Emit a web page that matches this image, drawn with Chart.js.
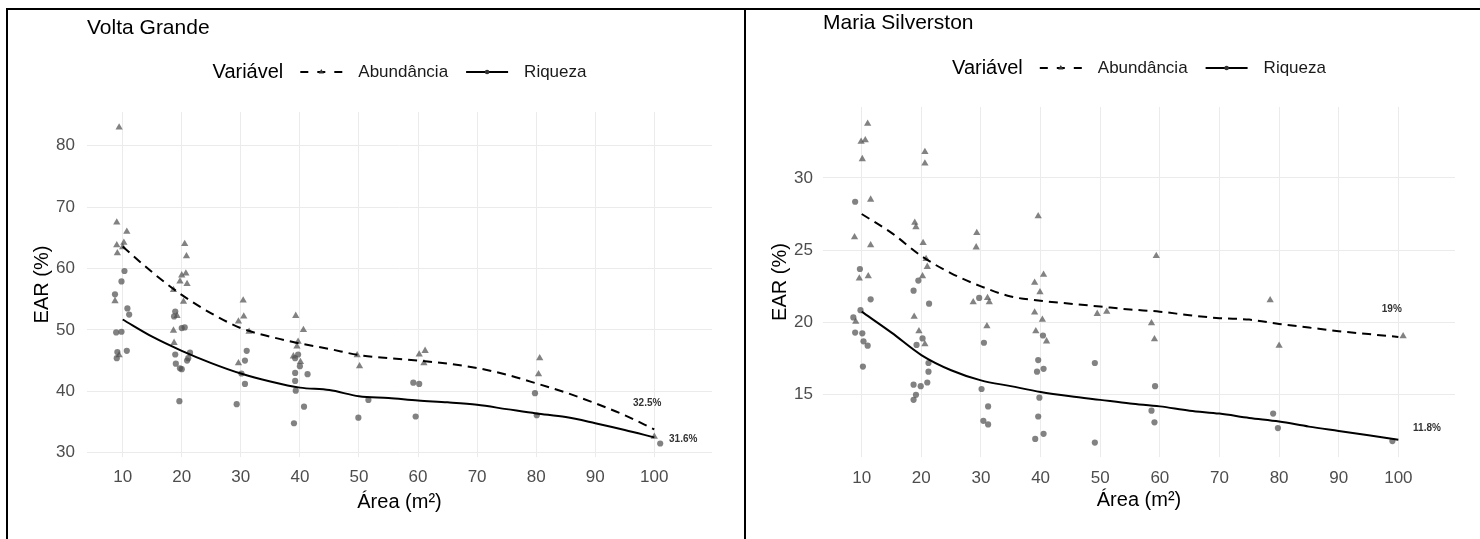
<!DOCTYPE html>
<html lang="pt">
<head>
<meta charset="utf-8">
<title>EAR por área amostral</title>
<script src="https://cdn.jsdelivr.net/npm/chart.js@4.4.1/dist/chart.umd.min.js"></script>
<style>
  html, body { margin: 0; padding: 0; background: #fff; }
  #page { position: relative; width: 1480px; height: 539px; overflow: hidden; }
  canvas { position: absolute; top: 0; }
  #voltaChart { left: 0; }
  #silverChart { left: 740px; }
  .rule { position: absolute; background: #000; }
</style>
</head>
<body>
<div id="page">
  <canvas id="voltaChart" width="740" height="539"></canvas>
  <canvas id="silverChart" width="740" height="539"></canvas>
  <div class="rule" style="left:7px;top:8px;width:1473px;height:2px"></div>
  <div class="rule" style="left:6px;top:8px;width:2px;height:531px"></div>
  <div class="rule" style="left:744px;top:8px;width:2px;height:531px"></div>
</div>
<script>
const FONT = '"Liberation Sans", Arial, Helvetica, sans-serif';

const xTicks = [10, 20, 30, 40, 50, 60, 70, 80, 90, 100];
const fitX = [10, 15, 20, 25, 30, 35, 40, 45, 50, 55, 60, 65, 70, 75, 80, 85, 90, 95, 100];
const legendTitle = 'Variável';
const legendLabels = ['Abundância', 'Riqueza'];

// Volta Grande
const voltaYTicks = [30, 40, 50, 60, 70, 80];
const voltaAbundX = [9.4, 9.0, 10.7, 9.0, 10.2, 9.1, 10.0, 8.7, 9.4,
  20.5, 20.8, 20.7, 20.0, 19.7, 20.9, 18.6, 20.3, 19.2, 18.6, 18.7,
  30.4, 30.5, 29.6, 31.4, 29.6,
  39.3, 40.6, 39.7, 39.5, 38.9, 40.1,
  49.7, 50.1, 60.2, 61.2, 61.0, 80.6, 80.4, 100.0];
const voltaAbundY = [83.0, 67.5, 66.0, 63.8, 64.2, 62.5, 63.5, 54.7, 45.9,
  64.0, 62.0, 59.2, 58.9, 57.9, 57.5, 56.5, 54.6, 52.3, 49.9, 47.9,
  54.8, 52.2, 51.4, 49.7, 44.6,
  52.3, 50.0, 48.1, 47.3, 45.7, 44.8,
  45.9, 44.1, 46.0, 46.6, 44.6, 45.4, 42.8, 32.6];
const voltaRiqX = [10.3, 9.8, 8.7, 10.8, 11.1, 8.9, 9.8, 9.1, 10.7, 9.0,
  18.9, 18.7, 20.0, 20.5, 18.9, 21.1, 21.4, 20.9, 19.0, 19.7, 20.0, 19.6,
  31.0, 30.7, 30.1, 30.7, 29.3,
  39.7, 39.2, 40.0, 39.2, 41.3, 39.2, 39.3, 40.7, 39.0,
  51.6, 49.9, 59.2, 60.2, 59.6, 79.8, 80.1, 101.0];
const voltaRiqY = [59.6, 57.9, 55.8, 53.5, 52.5, 49.6, 49.7, 46.4, 46.6, 45.4,
  53.0, 52.2, 50.3, 50.4, 46.0, 45.4, 46.3, 45.0, 44.5, 43.75, 43.6, 38.4,
  46.6, 45.0, 42.9, 41.2, 37.9,
  46.0, 45.4, 44.1, 43.0, 42.8, 41.7, 40.1, 37.5, 34.8,
  38.6, 35.7, 41.4, 41.2, 35.9, 39.7, 36.1, 31.5];
const voltaAbundFit = [63.6, 59.4, 55.7, 52.7, 50.3, 48.9, 47.8, 46.9, 45.9, 45.4,
  45.0, 44.5, 43.8, 42.7, 41.3, 39.8, 38.05, 36.1, 33.8];
const voltaRiqFit = [51.7, 48.9, 46.6, 44.6, 42.9, 41.6, 40.6, 40.2, 39.2, 38.9,
  38.5, 38.2, 37.8, 37.1, 36.4, 35.8, 34.8, 33.7, 32.5];
const voltaNoteText = ['32.5%', '31.6%'];
const voltaNoteX = [98.8, 104.9];
const voltaNoteY = [38.1, 32.2];

// Maria Silverston
const silverYTicks = [15, 20, 25, 30];
const silverAbundX = [11.0, 9.9, 10.6, 10.1, 11.5, 8.8, 11.5, 9.6, 11.1, 9.0,
  20.6, 20.6, 18.9, 19.1, 20.3, 20.8, 21.0, 20.2, 18.8, 19.6, 20.6,
  29.3, 29.2, 28.7, 31.1, 31.4, 31.0,
  39.6, 40.5, 39.0, 39.9, 40.3, 39.0, 39.2, 41.0,
  49.5, 51.1, 59.4, 58.6, 59.1, 78.5, 80.0, 100.8];
const silverAbundY = [33.75, 32.5, 32.6, 31.3, 28.5, 25.9, 25.35, 23.05, 23.2, 20.05,
  31.8, 31.0, 26.9, 26.6, 25.5, 24.4, 23.85, 23.2, 20.4, 19.4, 18.5,
  26.2, 25.2, 21.4, 21.7, 21.4, 19.75,
  27.35, 23.3, 22.75, 22.1, 20.2, 20.7, 19.4, 18.7,
  20.6, 20.75, 24.6, 19.95, 18.85, 21.55, 18.4, 19.05];
const silverRiqX = [8.9, 9.7, 11.5, 9.8, 8.6, 8.9, 10.1, 10.3, 11.0, 10.2,
  18.7, 19.5, 21.3, 20.2, 19.2, 21.2, 21.2, 18.7, 19.9, 21.0, 19.1, 18.7,
  29.7, 30.5, 30.1, 31.2, 30.4, 31.2,
  40.4, 39.6, 40.5, 39.4, 39.8, 39.6, 40.5, 39.1,
  49.1, 49.1, 59.2, 58.6, 59.1, 79.0, 79.8, 99.0];
const silverRiqY = [28.35, 23.7, 21.6, 20.85, 20.35, 19.3, 19.25, 18.7, 18.4, 16.95,
  22.2, 22.9, 21.3, 18.9, 18.45, 17.2, 16.6, 15.7, 15.6, 15.85, 15.0, 14.65,
  21.7, 18.6, 15.4, 14.2, 13.2, 12.95,
  19.1, 17.4, 16.8, 16.6, 14.8, 13.5, 12.3, 11.95,
  17.2, 11.7, 15.6, 13.9, 13.1, 13.7, 12.7, 11.8];
const silverAbundFit = [27.5, 26.2, 24.6, 23.4, 22.5, 21.8, 21.5, 21.3, 21.1, 20.9,
  20.75, 20.5, 20.3, 20.2, 19.9, 19.65, 19.4, 19.2, 19.0];
const silverRiqFit = [20.75, 19.3, 17.75, 16.7, 16.0, 15.6, 15.2, 14.9, 14.65, 14.4,
  14.2, 13.9, 13.7, 13.4, 13.15, 12.8, 12.5, 12.2, 11.9];
const silverNoteText = ['19%', '11.8%'];
const silverNoteX = [98.9, 104.8];
const silverNoteY = [20.9, 12.7];

const POINT_COLOR = 'rgba(77, 77, 77, 0.7)';
const GRID_COLOR = '#ebebeb';
const TICK_COLOR = '#4d4d4d';

Chart.defaults.font.family = FONT;

function toPoints(xs, ys) {
    return xs.map((x, i) => ({ x: x, y: ys[i] }));
}

function drawKey(ctx, x, y, w, dashed) {
    ctx.save();
    ctx.strokeStyle = '#000';
    ctx.lineWidth = 2;
    ctx.setLineDash(dashed ? [8, 9] : []);
    ctx.beginPath();
    ctx.moveTo(x, y);
    ctx.lineTo(x + w, y);
    ctx.stroke();
    ctx.setLineDash([]);
    ctx.fillStyle = '#333';
    const cx = x + w / 2;
    ctx.beginPath();
    if (dashed) {
        const r = 3;
        ctx.moveTo(cx, y - r);
        ctx.lineTo(cx + r * 0.866, y + r * 0.5);
        ctx.lineTo(cx - r * 0.866, y + r * 0.5);
        ctx.closePath();
    } else {
        ctx.arc(cx, y, 2.3, 0, Math.PI * 2);
    }
    ctx.fill();
    ctx.restore();
}

// panel title, ggplot-style inline legend and the end-of-curve labels
const panelDecor = {
    id: 'panelDecor',
    afterDraw(chart, args, opts) {
        const { ctx, chartArea: area, scales } = chart;
        ctx.save();
        ctx.textBaseline = 'middle';
        ctx.textAlign = 'left';
        ctx.fillStyle = '#000';

        ctx.font = '21px ' + FONT;
        ctx.fillText(opts.title, area.left, opts.titleY);

        const titleFont = '20px ' + FONT;
        const itemFont = '17px ' + FONT;
        const keyW = 42;
        ctx.font = titleFont;
        const wT = ctx.measureText(legendTitle).width;
        ctx.font = itemFont;
        const wA = ctx.measureText(legendLabels[0]).width;
        const wR = ctx.measureText(legendLabels[1]).width;
        const total = wT + 17 + keyW + 16 + wA + 18 + keyW + 16 + wR;
        let x = (area.left + area.right) / 2 - total / 2;
        const y = opts.legendY;
        ctx.font = titleFont;
        ctx.fillText(legendTitle, x, y);
        x += wT + 17;
        drawKey(ctx, x, y, keyW, true);
        x += keyW + 16;
        ctx.font = itemFont;
        ctx.fillStyle = '#1a1a1a';
        ctx.fillText(legendLabels[0], x, y);
        x += wA + 18;
        drawKey(ctx, x, y, keyW, false);
        x += keyW + 16;
        ctx.fillText(legendLabels[1], x, y);

        ctx.font = 'bold 10px ' + FONT;
        ctx.fillStyle = '#333';
        ctx.textAlign = 'center';
        opts.noteText.forEach((t, i) => {
            ctx.fillText(t, scales.x.getPixelForValue(opts.noteX[i]), scales.y.getPixelForValue(opts.noteY[i]));
        });
        ctx.restore();
    }
};

function makePanel(canvasId, p) {
    const ctx = document.getElementById(canvasId).getContext('2d');
    return new Chart(ctx, {
        type: 'scatter',
        data: {
            datasets: [
                {
                    label: legendLabels[0],
                    data: toPoints(fitX, p.abundFit),
                    showLine: true,
                    borderColor: '#000',
                    borderWidth: 2,
                    borderDash: [9, 6],
                    pointRadius: 0,
                    tension: 0.4,
                    cubicInterpolationMode: 'monotone',
                    order: 0
                },
                {
                    label: legendLabels[1],
                    data: toPoints(fitX, p.riqFit),
                    showLine: true,
                    borderColor: '#000',
                    borderWidth: 2,
                    pointRadius: 0,
                    tension: 0.4,
                    cubicInterpolationMode: 'monotone',
                    order: 0
                },
                {
                    label: legendLabels[0] + ' (pontos)',
                    data: toPoints(p.abundX, p.abundY),
                    pointStyle: 'triangle',
                    pointRadius: 4.2,
                    backgroundColor: POINT_COLOR,
                    borderWidth: 0,
                    order: 1
                },
                {
                    label: legendLabels[1] + ' (pontos)',
                    data: toPoints(p.riqX, p.riqY),
                    pointStyle: 'circle',
                    pointRadius: 3.1,
                    backgroundColor: POINT_COLOR,
                    borderWidth: 0,
                    order: 1
                }
            ]
        },
        options: {
            responsive: false,
            animation: false,
            devicePixelRatio: 1,
            layout: { padding: { top: p.top, right: p.right, bottom: 0, left: 0 } },
            plugins: {
                legend: { display: false },
                tooltip: { enabled: false },
                panelDecor: {
                    title: p.title,
                    titleY: p.titleY,
                    legendY: p.legendY,
                    noteText: p.noteText,
                    noteX: p.noteX,
                    noteY: p.noteY
                }
            },
            scales: {
                x: {
                    type: 'linear',
                    min: p.xMin,
                    max: p.xMax,
                    afterBuildTicks: s => { s.ticks = xTicks.map(v => ({ value: v })); },
                    afterFit: s => { s.height = 82; },
                    grid: { color: GRID_COLOR, lineWidth: 1, drawTicks: false },
                    border: { display: false },
                    ticks: { color: TICK_COLOR, font: { size: 17 }, padding: p.xTickPad, autoSkip: false, maxRotation: 0 },
                    title: { display: true, text: 'Área (m²)', color: '#000', font: { size: 20 }, padding: { top: 0, bottom: p.xTitlePad } }
                },
                y: {
                    type: 'linear',
                    min: p.yMin,
                    max: p.yMax,
                    afterBuildTicks: s => { s.ticks = p.yTicks.map(v => ({ value: v })); },
                    afterFit: s => { s.width = p.yAxisW; },
                    grid: { color: GRID_COLOR, lineWidth: 1, drawTicks: false },
                    border: { display: false },
                    ticks: { color: TICK_COLOR, font: { size: 17 }, padding: p.yTickPad },
                    title: { display: true, text: 'EAR (%)', color: '#000', font: { size: 20 }, padding: { top: p.yTitlePad, bottom: 0 } }
                }
            }
        },
        plugins: [panelDecor]
    });
}

makePanel('voltaChart', {
    title: 'Volta Grande', titleY: 28, legendY: 72,
    top: 112, right: 28, yAxisW: 87,
    xMin: 3.96, xMax: 109.77, yMin: 29.3, yMax: 85.5, yTicks: voltaYTicks,
    xTickPad: 10, xTitlePad: 25, yTickPad: 12, yTitlePad: 30,
    abundX: voltaAbundX, abundY: voltaAbundY, riqX: voltaRiqX, riqY: voltaRiqY,
    abundFit: voltaAbundFit, riqFit: voltaRiqFit,
    noteText: voltaNoteText, noteX: voltaNoteX, noteY: voltaNoteY
});

makePanel('silverChart', {
    title: 'Maria Silverston', titleY: 23, legendY: 68,
    top: 107, right: 25, yAxisW: 83,
    xMin: 3.51, xMax: 109.5, yMin: 10.7, yMax: 34.9, yTicks: silverYTicks,
    xTickPad: 11, xTitlePad: 27, yTickPad: 10, yTitlePad: 28,
    abundX: silverAbundX, abundY: silverAbundY, riqX: silverRiqX, riqY: silverRiqY,
    abundFit: silverAbundFit, riqFit: silverRiqFit,
    noteText: silverNoteText, noteX: silverNoteX, noteY: silverNoteY
});
</script>
</body>
</html>
